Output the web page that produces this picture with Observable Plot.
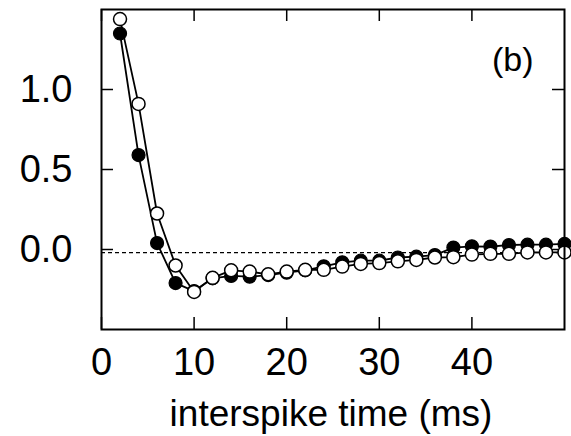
<!DOCTYPE html>
<html>
<head>
<meta charset="utf-8">
<script src="https://cdn.jsdelivr.net/npm/d3@7"></script>
<script src="https://cdn.jsdelivr.net/npm/@observablehq/plot@0.6"></script>
<style>
  html, body { margin: 0; padding: 0; background: #fff; }
  svg { display: block; }
</style>
</head>
<body>
<div id="chart"></div>
<script>
// interspike time (ms)
const times = [2, 4, 6, 8, 10, 12, 14, 16, 18, 20, 22, 24, 26, 28, 30, 32, 34, 36, 38, 40, 42, 44, 46, 48, 50];
// filled circles series
const filledValues = [1.35, 0.59, 0.04, -0.21, -0.26, -0.18, -0.165, -0.17, -0.16, -0.145, -0.13, -0.105, -0.08, -0.07, -0.07, -0.05, -0.045, -0.035, 0.012, 0.02, 0.018, 0.028, 0.03, 0.03, 0.035];
// open circles series
const openValues = [1.44, 0.91, 0.225, -0.10, -0.265, -0.177, -0.13, -0.138, -0.155, -0.138, -0.127, -0.127, -0.107, -0.09, -0.085, -0.074, -0.065, -0.05, -0.048, -0.032, -0.027, -0.027, -0.018, -0.018, -0.018];
const xTicks = [0, 10, 20, 30, 40];
const yTicks = [0, 0.5, 1.0];
const yTickLabels = ["0.0", "0.5", "1.0"];
const xLabel = "interspike time (ms)";
const panelLabel = "(b)";
const baseline = [-0.02];

const filled = times.map((t, i) => ({t, v: filledValues[i]}));
const open = times.map((t, i) => ({t, v: openValues[i]}));

const W = 571, H = 436;
const mL = 101, mR = 7, mT = 9, mB = 107;
const innerW = W - mL - mR, innerH = H - mT - mB;
const tickLen = 12;
const font = "'Liberation Sans', Arial, Helvetica, sans-serif";

const chart = Plot.plot({
  width: W,
  height: H,
  marginLeft: mL,
  marginRight: mR,
  marginTop: mT,
  marginBottom: mB,
  style: {fontFamily: font, background: "#fff", color: "#000"},
  x: {domain: [0, 50]},
  y: {domain: [-0.5, 1.5]},
  marks: [
    Plot.ruleY(baseline, {stroke: "#000", strokeWidth: 1.2, strokeDasharray: "4,3"}),
    // inward ticks on all four sides
    Plot.tickX(xTicks, {x: d => d, stroke: "#000", strokeWidth: 1.5, insetTop: innerH - tickLen}),
    Plot.tickX(xTicks, {x: d => d, stroke: "#000", strokeWidth: 1.5, insetBottom: innerH - tickLen}),
    Plot.tickY(yTicks, {y: d => d, stroke: "#000", strokeWidth: 1.5, insetRight: innerW - tickLen}),
    Plot.tickY(yTicks, {y: d => d, stroke: "#000", strokeWidth: 1.5, insetLeft: innerW - tickLen}),
    Plot.axisX(xTicks, {anchor: "bottom", tickSize: 0, tickPadding: 19, fontSize: 38, label: null, tickFormat: d => String(d)}),
    Plot.axisY(yTicks, {anchor: "left", tickSize: 0, tickPadding: 29, fontSize: 38, label: null, tickFormat: (d, i) => yTickLabels[i]}),
    Plot.text([xLabel], {text: d => d, frameAnchor: "bottom", dy: 85, dx: -2, fontSize: 37, lineAnchor: "middle", fill: "#000"}),
    Plot.text([panelLabel], {text: d => d, frameAnchor: "top-right", textAnchor: "end", dx: -31, dy: 51, fontSize: 34, lineAnchor: "middle", fill: "#000"}),
    Plot.line(filled, {x: "t", y: "v", stroke: "#000", strokeWidth: 1.8}),
    Plot.line(open, {x: "t", y: "v", stroke: "#000", strokeWidth: 1.8}),
    Plot.dot(filled, {x: "t", y: "v", r: 6.5, fill: "#000", stroke: "#000", strokeWidth: 1.2}),
    Plot.dot(open, {x: "t", y: "v", r: 6.5, fill: "#fff", stroke: "#000", strokeWidth: 1.5}),
    Plot.frame({stroke: "#000", strokeWidth: 2})
  ]
});
document.getElementById("chart").appendChild(chart);
</script>
</body>
</html>
